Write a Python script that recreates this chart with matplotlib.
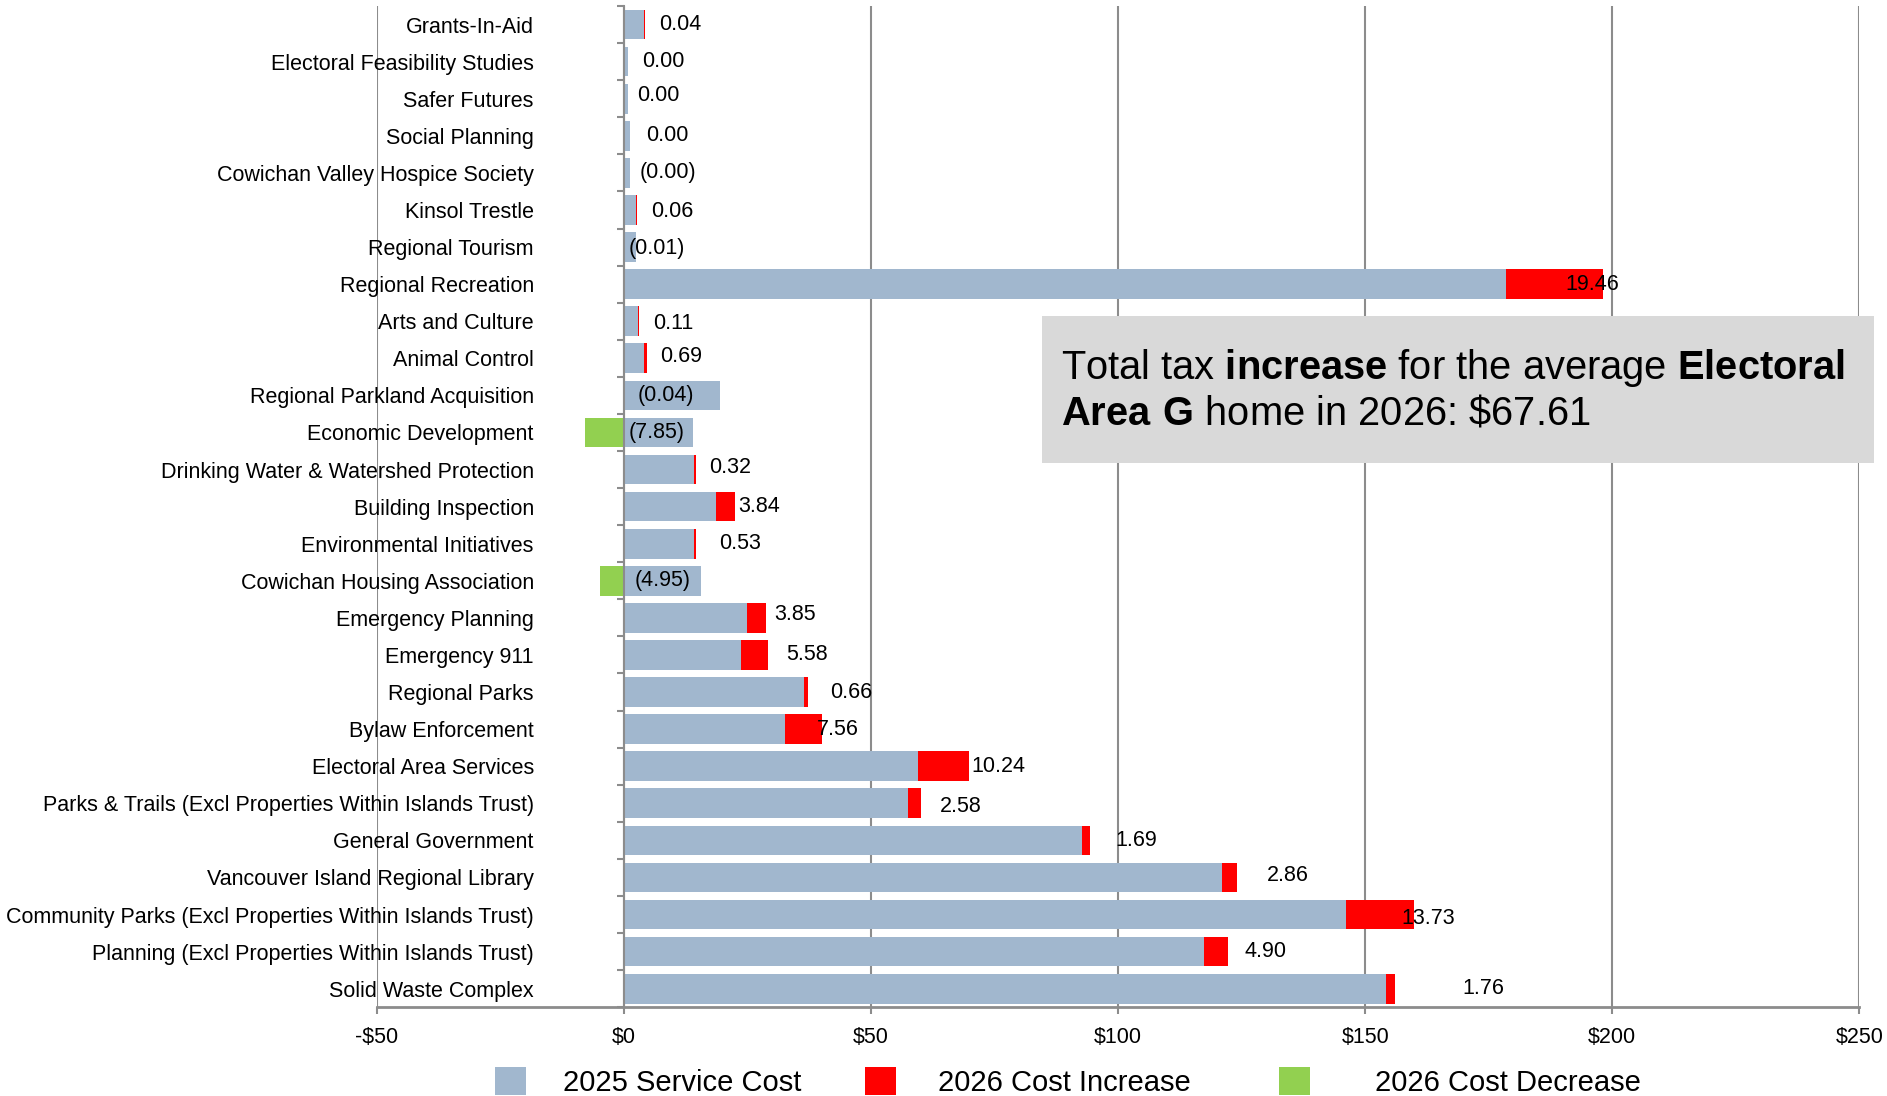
import numpy as np
import matplotlib.pyplot as plt
from matplotlib.patches import Patch, Rectangle

# --------------------------------------------------
# data
# --------------------------------------------------
services = [
    "Grants-In-Aid", "Electoral Feasibility Studies", "Safer Futures", "Social Planning",
    "Cowichan Valley Hospice Society", "Kinsol Trestle", "Regional Tourism",
    "Regional Recreation", "Arts and Culture", "Animal Control",
    "Regional Parkland Acquisition", "Economic Development",
    "Drinking Water & Watershed Protection", "Building Inspection",
    "Environmental Initiatives", "Cowichan Housing Association", "Emergency Planning",
    "Emergency 911", "Regional Parks", "Bylaw Enforcement", "Electoral Area Services",
    "Parks & Trails (Excl Properties Within Islands Trust)", "General Government",
    "Vancouver Island Regional Library",
    "Community Parks (Excl Properties Within Islands Trust)",
    "Planning (Excl Properties Within Islands Trust)", "Solid Waste Complex",
]
cost_2025 = [4.1, 0.7, 0.8, 1.3, 1.2, 2.5, 2.5, 178.6, 2.9, 4.0, 19.5, 13.9, 14.2, 18.6,
             14.1, 15.5, 24.8, 23.6, 36.5, 32.6, 59.5, 57.5, 92.7, 121.1, 146.2, 117.4, 154.3]
change_2026 = [0.04, 0.00, 0.00, 0.00, -0.001, 0.06, -0.01, 19.46, 0.11, 0.69, -0.04, -7.85,
               0.32, 3.84, 0.53, -4.95, 3.85, 5.58, 0.66, 7.56, 10.24, 2.58, 1.69, 2.86,
               13.73, 4.90, 1.76]
legend_labels = ["2025 Service Cost", "2026 Cost Increase", "2026 Cost Decrease"]

# where each value label sits, relative to the end of its bar ($ and rows)
label_dx = [2.9, 2.9, 1.9, 3.2, 1.9, 2.9, -1.5, -7.5, 2.9, 2.7, -16.8, -12.9, 2.7, 0.7,
            4.6, -13.3, 1.7, 3.6, 4.6, -1.2, 0.5, 3.9, 5.1, 6.1, -2.7, 3.2, 13.6]
label_dy = [0, 0, -0.1, 0, 0, 0.05, 0.05, 0, 0.05, -0.05, 0, 0, -0.05, 0, 0, 0, -0.1, 0,
            0, 0, 0, 0.1, 0, -0.05, 0.12, 0, 0]

# legend entries: left edge (figure fraction) and gap between swatch and text
legend_x = [0.2621, 0.4583, 0.6777]
legend_pad = [1.29, 1.44, 2.23]

BLUE = "#a1b7ce"
RED = "#ff0000"
GREEN = "#92d050"
GREY = "#8c8c8c"
FS = 15.5

plt.rcParams['font.family'] = ['Liberation Sans', 'DejaVu Sans']
plt.rcParams['mathtext.fontset'] = 'custom'
plt.rcParams['mathtext.rm'] = 'Liberation Sans'
plt.rcParams['mathtext.bf'] = 'Liberation Sans:bold'

cost = np.array(cost_2025)
change = np.array(change_2026)
inc = np.clip(change, 0, None)
dec = np.clip(change, None, 0)
y = np.arange(len(services))


def money(v):
    return f"({abs(v):.2f})" if v < 0 else f"{v:.2f}"


# --------------------------------------------------
# chart
# --------------------------------------------------
fig = plt.figure(figsize=(18.87, 10.96), dpi=100)
ax = fig.add_axes([0.1998, 0.081, 0.7855, 0.9135])

ax.barh(y, cost, height=0.8, color=BLUE, zorder=2)
ax.barh(y, inc, left=cost, height=0.8, color=RED, zorder=2)
ax.barh(y, dec, height=0.8, color=GREEN, zorder=2)

for i in range(len(services)):
    ax.text(cost[i] + inc[i] + label_dx[i], y[i] + label_dy[i], money(change[i]),
            va='center', ha='left', fontsize=FS, zorder=5)

ax.set_xlim(-50, 250)
ax.set_ylim(len(services) - 0.5, -0.5)

xt = np.arange(-50, 251, 50)
ax.set_xticks(xt)
ax.set_xticklabels([("-$" if v < 0 else "$") + str(abs(v)) for v in xt])
ax.tick_params(axis='x', length=5, width=1.5, color=GREY, pad=9, labelsize=FS)

ax.set_yticks(y)
ax.set_yticklabels(services)
ax.set_yticks(np.arange(-0.5, len(services), 1), minor=True)
ax.tick_params(axis='y', which='major', length=0, pad=65, labelsize=FS)
ax.tick_params(axis='y', which='minor', length=5, width=1.5, color=GREY)

ax.xaxis.grid(True, color=GREY, linewidth=1.5, zorder=1)
ax.set_axisbelow(True)

for side in ("top", "right"):
    ax.spines[side].set_visible(False)
ax.spines['left'].set_position(('data', 0))
ax.spines['left'].set_color(GREY)
ax.spines['left'].set_linewidth(1.5)
ax.spines['left'].set_zorder(3)
ax.spines['bottom'].set_color(GREY)
ax.spines['bottom'].set_linewidth(2)

# total box
fig.patches.append(Rectangle((0.552, 0.5776), 0.441, 0.134, transform=fig.transFigure,
                             facecolor="#d9d9d9", edgecolor="none", zorder=4))
fig.text(0.5623, 0.6446,
         "Total tax $\\mathbf{increase}$ for the average $\\mathbf{Electoral}$\n"
         "$\\mathbf{Area\\ G}$ home in 2026: \\$67.61",
         va='center', ha='left', fontsize=28.7, linespacing=1.2, zorder=5)

# legend, one entry at a time so the uneven spacing matches
for colour, text, lx, pad in zip([BLUE, RED, GREEN], legend_labels, legend_x, legend_pad):
    fig.legend([Patch(facecolor=colour)], [text], loc='center left',
               bbox_to_anchor=(lx, 0.0128), frameon=False, fontsize=21,
               handlelength=1.07, handleheight=1.07, handletextpad=pad,
               borderpad=0, borderaxespad=0)

fig.savefig("out.png", dpi=100)
